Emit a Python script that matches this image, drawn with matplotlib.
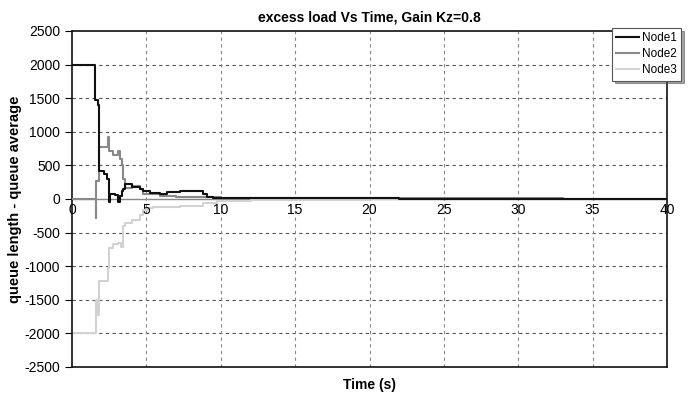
import matplotlib
matplotlib.use("Agg")
import matplotlib.pyplot as plt

plt.rcParams['font.family'] = ['Liberation Sans', 'DejaVu Sans']

title = "excess load Vs Time, Gain Kz=0.8"
xlabel = "Time (s)"
ylabel = "queue length - queue average"
series_names = ["Node1", "Node2", "Node3"]
xticks = [0, 5, 10, 15, 20, 25, 30, 35, 40]
yticks = [-2500, -2000, -1500, -1000, -500, 0, 500, 1000, 1500, 2000, 2500]

t1 = [0, 1.55, 1.72, 1.84, 2.17, 2.33, 2.49, 2.55, 2.9, 3.11, 3.23, 3.34, 3.45, 3.56,
      4.01, 4.23, 4.57, 4.79, 5.24, 5.91, 6.36, 7.26, 8.83, 9.05, 9.5, 10.0, 22, 40]
v1 = [2000, 1480, 1400, 410, 370, 300, -50, 75, 60, -40, 50, 125, 150, 220,
      185, 175, 150, 125, 90, 75, 100, 115, 75, 25, 10, 12, 5, 5]

t2 = [0, 1.59, 1.62, 1.84, 2.44, 2.47, 2.55, 2.78, 3.11, 3.25, 3.34, 3.45, 3.56,
      4.0, 4.57, 4.79, 5.9, 7.0, 8.0, 10.0, 14, 33, 40]
v2 = [0, -290, 270, 780, 930, 720, 708, 659, 708, 600, 512, 300, 171,
      200, 150, 75, 50, 35, 25, 15, 10, 5, 5]

t3 = [0, 1.59, 1.7, 1.84, 2.44, 2.5, 2.78, 3.11, 3.29, 3.45, 3.56, 4.0, 4.57, 4.79,
      5.02, 5.47, 5.91, 7.26, 8.83, 9.72, 12, 20, 40]
v3 = [-2000, -1500, -1730, -1215, -1020, -725, -676, -650, -720, -407, -358, -310, -235, -162,
      -137, -125, -115, -100, -65, -35, -20, -5, -5]

fig = plt.figure(figsize=(6.92, 4.0), dpi=100)
ax = fig.add_axes([72/692, 1-367/400, (667-72)/692, (367-31)/400])

ax.set_xlim(0, 40)
ax.set_ylim(-2500, 2500)

# grid
for yv in yticks[1:-1]:
    if yv == 0:
        continue
    ax.axhline(yv, color='#555555', lw=0.8, ls=(0, (3, 3)), zorder=0)
for xv in xticks[1:-1]:
    ax.axvline(xv, color='#888888', lw=0.8, ls=(0, (3, 3)), zorder=0)
ax.axhline(0, color='#888888', lw=1.0, zorder=1)

l3, = ax.plot(t3, v3, drawstyle='steps-post', color='#d2d2d2', lw=1.5, label=series_names[2], zorder=2)
l2, = ax.plot(t2, v2, drawstyle='steps-post', color='#8a8a8a', lw=1.5, label=series_names[1], zorder=3)
l1, = ax.plot(t1, v1, drawstyle='steps-post', color='#111111', lw=1.5, label=series_names[0], zorder=4)

ax.set_yticks(yticks)
ax.set_yticklabels([str(v) for v in yticks], fontsize=10)
ax.tick_params(axis='y', length=5, width=0.8, direction='out')
ax.set_xticks([])
for xv in xticks:
    ax.annotate(str(xv), xy=(xv, 0), xytext=(0, -3), textcoords='offset points',
                ha='center', va='top', fontsize=10)

for side in ['left', 'top', 'right', 'bottom']:
    ax.spines[side].set_color('#111111')
    ax.spines[side].set_linewidth(1.2)

ax.set_title(title, fontsize=10, fontweight='bold', pad=7)
ax.set_xlabel(xlabel, fontsize=10, fontweight='bold', labelpad=8)
ax.set_ylabel(ylabel, fontsize=10.5, fontweight='bold', labelpad=2)

leg = ax.legend([l1, l2, l3], series_names,
                loc='upper left', bbox_to_anchor=(612/692, 1-28/400),
                bbox_transform=fig.transFigure, fontsize=8.5, frameon=True,
                fancybox=False, shadow=True, handlelength=1.9, handletextpad=0.3,
                borderpad=0.35, labelspacing=0.35, borderaxespad=0)
leg.get_frame().set_edgecolor('#555555')
leg.get_frame().set_linewidth(0.8)

fig.savefig("out.png", dpi=100)
